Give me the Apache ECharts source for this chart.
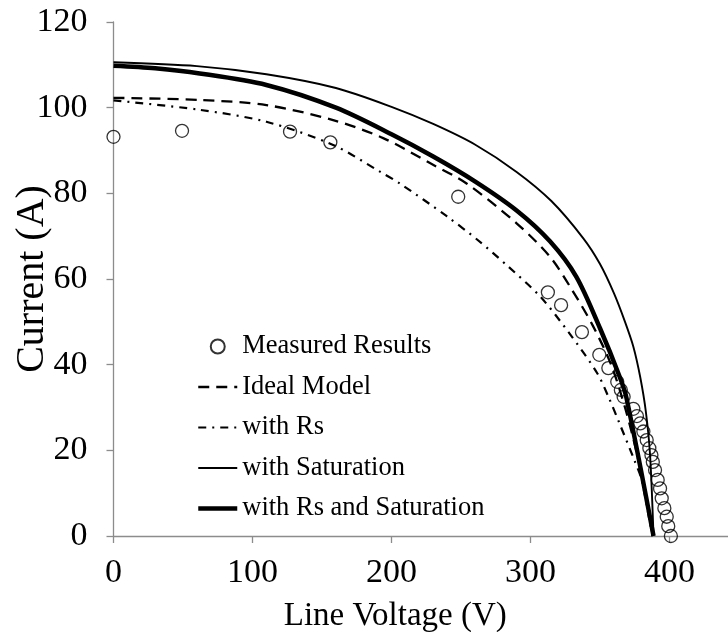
<!DOCTYPE html>
<html>
<head>
<meta charset="utf-8">
<script src="https://cdn.jsdelivr.net/npm/echarts@6/dist/echarts.min.js"></script>
<style>html,body{margin:0;padding:0;background:#fff}#c{width:728px;height:632px}</style>
</head>
<body>
<div id="c"></div>
<script>
// Data (Line Voltage V, Current A)
const measured = [[0,93.2],[49.3,94.6],[127,94.4],[156,91.9],[248,79.2],[312.5,56.9],[322,53.9],[337,47.6],[349.5,42.3],[356,39.2],[362.4,36.0],[365,34.1],[367,32.5],[374,29.7],[376.6,28.0],[379,26.3],[381.2,24.4],[383.6,22.4],[385.5,20.5],[387,18.9],[388,17.3],[389.6,15.4],[391.5,13.1],[393.2,11.1],[394.4,8.8],[396.3,6.5],[398,4.5],[399.1,2.3],[401,0]];
const idealModel = [[0,102.3],[62,101.8],[110,100.6],[158,97.1],[194,92.9],[228,87.0],[254,82.3],[290,73],[314,65.2],[330,57.4],[345,49],[358,40],[368,30],[376,20],[382,11],[388,0]];
const withRs = [[0,101.7],[62,99.5],[110,96.7],[158,91.3],[192,85],[206,82.3],[240,74.6],[262,69.1],[284,62.9],[307,55.9],[328,47.3],[348,38],[357,31.8],[364,26.3],[375,17.5],[380,13.1],[386,3],[388,0]];
const withSaturation = [[0,110.6],[60,109.7],[110,107.8],[160,104.6],[200,100.2],[230,96.2],[260,91.4],[290,85.0],[315,78.2],[338,69.5],[350,63.5],[360,56.7],[368,50],[374,44.2],[379,37],[383,29],[386,19],[388.5,0]];
const withRsSat = [[0,109.8],[30,109.2],[62,108.0],[110,105.3],[160,100.0],[200,93.8],[230,88.6],[260,82.8],[290,76.0],[314,68.8],[333,60.5],[350,48.5],[364,37.3],[369,32.3],[388.5,0]];
const seriesNames = ['Measured Results','Ideal Model','with Rs','with Saturation','with Rs and Saturation'];
const xTitle = 'Line Voltage (V)';
const yTitle = 'Current (A)';

const font = 'Liberation Serif';
const chart = echarts.init(document.getElementById('c'), null, {renderer:'canvas'});
const axisGray = '#8c8c8c';
const widths = [0, 2.3, 2.2, 1.9, 4.5];
const dashes = [null, [11,7], [8,6,2,6], 'solid', 'solid'];
function lineSeries(i, data) {
  return {
    name:seriesNames[i], type:'line', data, symbol:'none', smooth:0.3,
    lineStyle:{color:'#000', width:widths[i], type:dashes[i]}, itemStyle:{color:'#000'}, z:2
  };
}
chart.setOption({
  animation:false,
  backgroundColor:'#fff',
  textStyle:{fontFamily:font},
  grid:{left:113.5, right:-11, top:22, bottom:96, containLabel:false, outerBoundsMode:'none'},
  xAxis:{
    type:'value', min:0, max:450, interval:100,
    name:xTitle, nameLocation:'middle', nameGap:64, nameMoveOverlap:false,
    nameTextStyle:{fontFamily:font, fontSize:33, color:'#000', padding:[0,62,0,0]},
    axisLine:{lineStyle:{color:axisGray, width:1.3}},
    axisTick:{show:true, inside:false, length:7, lineStyle:{color:axisGray, width:1.3}},
    axisLabel:{fontFamily:font, fontSize:34, color:'#000', margin:20, showMaxLabel:false},
    splitLine:{show:false}
  },
  yAxis:{
    type:'value', min:0, max:120, interval:20,
    name:yTitle, nameLocation:'middle', nameGap:61, nameRotate:90, nameMoveOverlap:false,
    nameTextStyle:{fontFamily:font, fontSize:40, color:'#000'},
    axisLine:{show:true, lineStyle:{color:axisGray, width:1.3}},
    axisTick:{show:true, inside:false, length:7, lineStyle:{color:axisGray, width:1.3}},
    axisLabel:{fontFamily:font, fontSize:34, color:'#000', margin:26},
    splitLine:{show:false}
  },
  legend:{
    orient:'vertical', left:191, top:328, itemWidth:39, itemHeight:14, itemGap:13.5,
    textStyle:{fontFamily:font, fontSize:26.5, color:'#000'},
    lineStyle:{width:'inherit'},
    data:seriesNames.map((n,i)=> i===0 ? {name:n} :
      {name:n, itemStyle:{opacity:0}, lineStyle:{width:widths[i], type:dashes[i], color:'#000'}})
  },
  series:[
    {name:seriesNames[0], type:'scatter', data:measured, symbol:'circle', symbolSize:13,
     itemStyle:{color:'rgba(255,255,255,0)', borderColor:'#000', borderWidth:1.3}, z:3},
    lineSeries(1, idealModel),
    lineSeries(2, withRs),
    lineSeries(3, withSaturation),
    lineSeries(4, withRsSat)
  ]
});
</script>
</body>
</html>
